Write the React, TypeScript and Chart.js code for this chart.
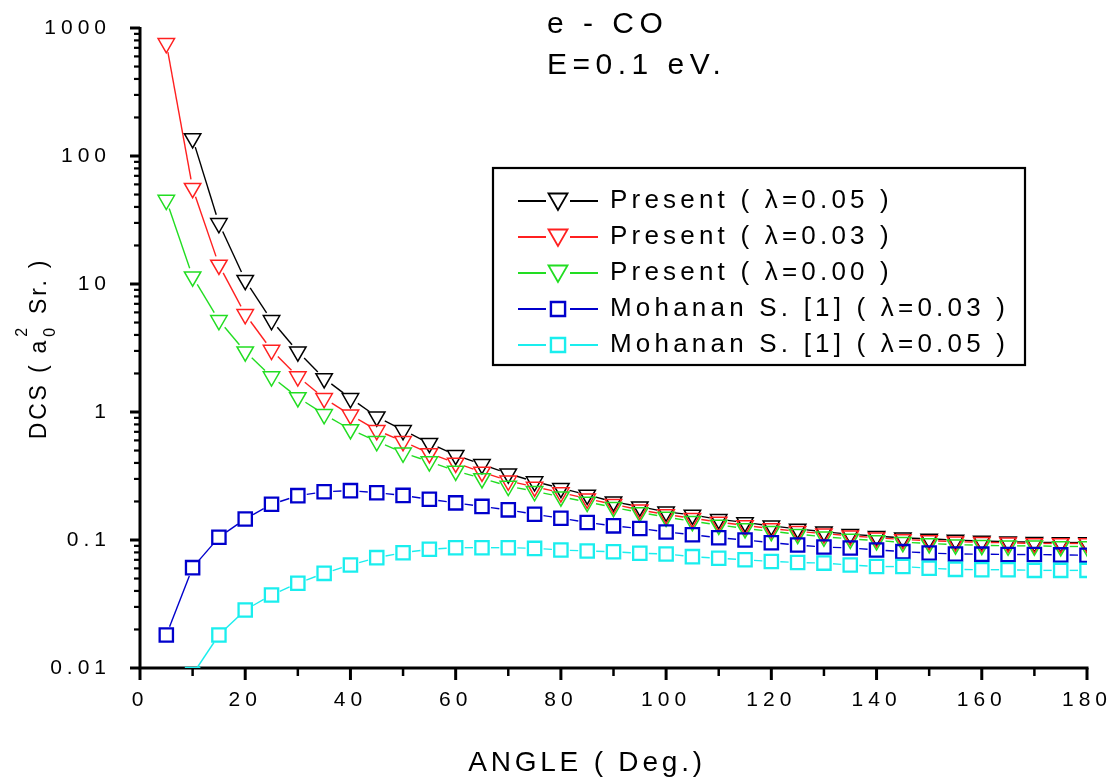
import React, { useEffect, useRef } from 'react';
import { Chart, registerables } from 'chart.js';

Chart.register(...registerables);

// ---------------- data ----------------
const angles = [5, 10, 15, 20, 25, 30, 35, 40, 45, 50, 55, 60, 65, 70, 75, 80, 85, 90, 95, 100,
  105, 110, 115, 120, 125, 130, 135, 140, 145, 150, 155, 160, 165, 170, 175, 180];

const presentL005 = [null, 137, 29.8, 10.7, 5.2, 2.96, 1.83, 1.28, 0.92, 0.72, 0.57, 0.46, 0.39, 0.33,
  0.286, 0.254, 0.225, 0.199, 0.182, 0.166, 0.157, 0.145, 0.137, 0.129, 0.122, 0.116, 0.111, 0.107,
  0.104, 0.102, 0.1, 0.098, 0.097, 0.096, 0.0955, 0.0955];

const presentL003 = [760, 56, 14.1, 5.8, 3.05, 1.89, 1.28, 0.95, 0.72, 0.59, 0.475, 0.4, 0.34, 0.29,
  0.26, 0.235, 0.21, 0.19, 0.172, 0.158, 0.148, 0.138, 0.13, 0.123, 0.117, 0.112, 0.108, 0.104,
  0.101, 0.099, 0.097, 0.096, 0.095, 0.094, 0.094, 0.094];

const presentL000 = [45.3, 11.4, 5.2, 2.96, 1.89, 1.3, 0.96, 0.73, 0.59, 0.48, 0.41, 0.346, 0.303, 0.264,
  0.24, 0.218, 0.198, 0.18, 0.164, 0.151, 0.14, 0.131, 0.123, 0.117, 0.111, 0.106, 0.102, 0.099,
  0.096, 0.094, 0.092, 0.091, 0.09, 0.09, 0.089, 0.089];

const mohananL003 = [0.0181, 0.0608, 0.105, 0.146, 0.19, 0.222, 0.238, 0.243, 0.234, 0.223, 0.208, 0.195, 0.183, 0.172,
  0.159, 0.148, 0.137, 0.129, 0.123, 0.1155, 0.11, 0.104, 0.1, 0.0953, 0.0914, 0.0881, 0.0866, 0.0836,
  0.0811, 0.0791, 0.0778, 0.0775, 0.077, 0.077, 0.0765, 0.076];

const mohananL005 = [null, 0.0089, 0.0181, 0.0284, 0.0372, 0.0459, 0.0549, 0.0638, 0.0728, 0.0796, 0.0846, 0.0871, 0.0871, 0.0871,
  0.086, 0.0836, 0.082, 0.081, 0.0788, 0.0778, 0.0741, 0.072, 0.07, 0.068, 0.0667, 0.066, 0.0638, 0.062,
  0.062, 0.0602, 0.059, 0.0586, 0.0586, 0.0579, 0.0579, 0.0579];

const seriesValues = [presentL005, presentL003, presentL000, mohananL003, mohananL005];
const seriesLabels = [
  'Present ( \u03bb=0.05 )',
  'Present ( \u03bb=0.03 )',
  'Present ( \u03bb=0.00 )',
  'Mohanan S. [1] ( \u03bb=0.03 )',
  'Mohanan S. [1] ( \u03bb=0.05 )',
];
const seriesColors = ['#000000', '#ff2020', '#22dd22', '#0000cc', '#1aeeee'];
const seriesMarkers = ['triangle', 'triangle', 'triangle', 'rect', 'rect'];

const yTickValues = [0.01, 0.1, 1, 10, 100, 1000];
const yTickLabels = ['0.01', '0.1', '1', '10', '100', '1000'];
const xTickValues = [0, 20, 40, 60, 80, 100, 120, 140, 160, 180];
const xMinorTickValues = [10, 30, 50, 70, 90, 110, 130, 150, 170];

const annotationLines = ['e - CO', 'E=0.1 eV.'];
const xAxisTitle = 'ANGLE ( Deg.)';
const yAxisTitleParts = ['DCS ( a', '2', '0', ' Sr. )'];

const FONT = '"Liberation Sans", Arial, Helvetica, sans-serif';

// ---------------- drawing helpers ----------------
function drawMarker(ctx: CanvasRenderingContext2D, style: string, x: number, y: number, r: number) {
  ctx.beginPath();
  if (style === 'triangle') {
    const s = Math.sin(Math.PI / 3) * r;
    ctx.moveTo(x, y + r);
    ctx.lineTo(x - s, y - r / 2);
    ctx.lineTo(x + s, y - r / 2);
    ctx.closePath();
  } else {
    const h = r * Math.SQRT1_2;
    ctx.rect(x - h, y - h, 2 * h, 2 * h);
  }
  ctx.stroke();
}

const decorPlugin = {
  id: 'decor',
  beforeDraw(chart: any) {
    (chart.ctx as any).letterSpacing = '5px';
  },
  beforeDatasetsDraw(chart: any) {
    const { ctx, chartArea, scales } = chart;
    const xs = scales.x;
    const ys = scales.y;
    ctx.save();
    (ctx as any).letterSpacing = '0px';
    ctx.strokeStyle = '#000';
    ctx.lineCap = 'butt';
    // axis lines
    ctx.lineWidth = 3;
    ctx.beginPath();
    ctx.moveTo(chartArea.left, chartArea.top - 1);
    ctx.lineTo(chartArea.left, chartArea.bottom + 1.5);
    ctx.moveTo(chartArea.left - 1.5, chartArea.bottom);
    ctx.lineTo(chartArea.right + 1.5, chartArea.bottom);
    ctx.stroke();
    // y ticks (outward, left)
    for (let e = -2; e <= 3; e++) {
      const major = Math.pow(10, e);
      const py = ys.getPixelForValue(major);
      ctx.lineWidth = 3;
      ctx.beginPath();
      ctx.moveTo(chartArea.left, py);
      ctx.lineTo(chartArea.left - 10, py);
      ctx.stroke();
      if (e < 3) {
        for (let k = 2; k <= 9; k++) {
          const pm = ys.getPixelForValue(k * major);
          ctx.lineWidth = 2.2;
          ctx.beginPath();
          ctx.moveTo(chartArea.left, pm);
          ctx.lineTo(chartArea.left - 6, pm);
          ctx.stroke();
        }
      }
    }
    // x ticks (outward, down)
    xTickValues.forEach((v) => {
      const px = xs.getPixelForValue(v);
      ctx.lineWidth = 3;
      ctx.beginPath();
      ctx.moveTo(px, chartArea.bottom);
      ctx.lineTo(px, chartArea.bottom + 12);
      ctx.stroke();
    });
    xMinorTickValues.forEach((v) => {
      const px = xs.getPixelForValue(v);
      ctx.lineWidth = 2.5;
      ctx.beginPath();
      ctx.moveTo(px, chartArea.bottom);
      ctx.lineTo(px, chartArea.bottom + 8);
      ctx.stroke();
    });

    // connecting lines with gaps around markers (Origin style)
    ctx.beginPath();
    ctx.rect(chartArea.left, chartArea.top, chartArea.right - chartArea.left, chartArea.bottom - chartArea.top + 1);
    ctx.clip();
    chart.data.datasets.forEach((ds: any, i: number) => {
      const meta = chart.getDatasetMeta(i);
      const pts = meta.data;
      ctx.strokeStyle = ds.borderColor;
      ctx.lineWidth = 1.4;
      const gap = 9;
      for (let k = 0; k < pts.length - 1; k++) {
        const a = pts[k];
        const b = pts[k + 1];
        if (!a || !b || a.skip || b.skip) continue;
        const dx = b.x - a.x;
        const dy = b.y - a.y;
        const len = Math.hypot(dx, dy);
        if (len <= 2 * gap + 1) continue;
        const ux = dx / len;
        const uy = dy / len;
        ctx.beginPath();
        ctx.moveTo(a.x + ux * gap, a.y + uy * gap);
        ctx.lineTo(b.x - ux * gap, b.y - uy * gap);
        ctx.stroke();
      }
    });
    ctx.restore();
  },
  afterDraw(chart: any) {
    const ctx: CanvasRenderingContext2D = chart.ctx;
    (ctx as any).letterSpacing = '0px';
    ctx.save();
    ctx.fillStyle = '#000';

    // annotation text
    ctx.font = `30px ${FONT}`;
    (ctx as any).letterSpacing = '5.5px';
    ctx.textAlign = 'left';
    ctx.textBaseline = 'middle';
    ctx.fillText(annotationLines[0], 547, 25);
    ctx.fillText(annotationLines[1], 547, 66);

    // x axis title
    ctx.font = `28px ${FONT}`;
    (ctx as any).letterSpacing = '3.8px';
    ctx.textAlign = 'center';
    ctx.fillText(xAxisTitle, 587, 763);

    // y axis title (rotated, with superscript / subscript)
    ctx.save();
    ctx.translate(40, 349);
    ctx.rotate(-Math.PI / 2);
    ctx.textAlign = 'left';
    ctx.textBaseline = 'middle';
    const mainFont = `23px ${FONT}`;
    const smallFont = `16px ${FONT}`;
    (ctx as any).letterSpacing = '2.8px';
    ctx.font = mainFont;
    const w1 = ctx.measureText(yAxisTitleParts[0]).width;
    const w4 = ctx.measureText(yAxisTitleParts[3]).width;
    ctx.font = smallFont;
    const w2 = ctx.measureText(yAxisTitleParts[1]).width;
    const w3 = ctx.measureText(yAxisTitleParts[2]).width;
    const ws = Math.max(w2, w3) + 2;
    const total = w1 + ws + w4;
    let cx = -total / 2;
    ctx.font = mainFont;
    ctx.fillText(yAxisTitleParts[0], cx, 0);
    cx += w1 + 1;
    ctx.font = smallFont;
    ctx.fillText(yAxisTitleParts[1], cx, -17);
    ctx.fillText(yAxisTitleParts[2], cx, 11);
    cx += ws;
    ctx.font = mainFont;
    ctx.fillText(yAxisTitleParts[3], cx, 0);
    ctx.restore();

    // legend
    const bx = 493, by = 168, bw = 532, bh = 197;
    ctx.strokeStyle = '#000';
    ctx.lineWidth = 2.2;
    ctx.strokeRect(bx, by, bw, bh);
    ctx.font = `26px ${FONT}`;
    (ctx as any).letterSpacing = '4.2px';
    ctx.textAlign = 'left';
    ctx.textBaseline = 'middle';
    seriesLabels.forEach((label, i) => {
      const y = 201 + 36 * i;
      const color = seriesColors[i];
      ctx.strokeStyle = color;
      ctx.lineWidth = 1.8;
      ctx.beginPath();
      ctx.moveTo(518, y);
      ctx.lineTo(546, y);
      ctx.moveTo(570, y);
      ctx.lineTo(598, y);
      ctx.stroke();
      ctx.lineWidth = seriesMarkers[i] === 'rect' ? 2.4 : 1.8;
      if (seriesMarkers[i] === 'triangle') {
        drawMarker(ctx, 'triangle', 558, y - 2, 11);
      } else {
        drawMarker(ctx, 'rect', 558, y, 10);
      }
      ctx.fillStyle = '#000';
      ctx.fillText(label, 610, y);
    });

    ctx.restore();
  },
};

export default function App() {
  const canvasRef = useRef<HTMLCanvasElement | null>(null);

  useEffect(() => {
    const canvas = canvasRef.current;
    if (!canvas) return;
    Chart.defaults.font.family = FONT;

    const datasets = seriesValues.map((vals, i) => ({
      label: seriesLabels[i],
      data: angles.map((a, k) => ({ x: a, y: vals[k] })),
      borderColor: seriesColors[i],
      backgroundColor: 'rgba(0,0,0,0)',
      showLine: false,
      pointStyle: seriesMarkers[i],
      pointRotation: seriesMarkers[i] === 'triangle' ? 180 : 0,
      pointRadius: seriesMarkers[i] === 'triangle' ? 9.5 : 9.4,
      pointBorderWidth: seriesMarkers[i] === 'triangle' ? 1.5 : 2.3,
      pointBackgroundColor: 'rgba(0,0,0,0)',
      pointBorderColor: seriesColors[i],
      order: seriesValues.length - i,
    }));

    const chart = new Chart(canvas, {
      type: 'line',
      data: { datasets },
      plugins: [decorPlugin as any],
      options: {
        animation: false,
        responsive: false,
        maintainAspectRatio: false,
        events: [],
        layout: { padding: { left: 0, right: 21, top: 28, bottom: 0 } },
        plugins: {
          legend: { display: false },
          tooltip: { enabled: false },
          title: { display: false },
        },
        scales: {
          x: {
            type: 'linear',
            min: 0,
            max: 180,
            grid: { display: false, drawTicks: false },
            border: { display: false },
            afterBuildTicks: (scale: any) => {
              scale.ticks = xTickValues.map((v) => ({ value: v }));
            },
            afterFit: (scale: any) => {
              scale.height = 112;
              scale.paddingLeft = 0;
              scale.paddingRight = 0;
            },
            ticks: {
              autoSkip: false,
              maxRotation: 0,
              padding: 20,
              color: '#000',
              font: { size: 21, family: FONT },
              callback: (v: any) => String(v),
            },
          },
          y: {
            type: 'logarithmic',
            min: 0.01,
            max: 1000,
            grid: { display: false, drawTicks: false },
            border: { display: false },
            afterBuildTicks: (scale: any) => {
              scale.ticks = yTickValues.map((v) => ({ value: v }));
            },
            afterFit: (scale: any) => {
              scale.width = 140;
              scale.paddingTop = 0;
              scale.paddingBottom = 0;
            },
            ticks: {
              autoSkip: false,
              padding: 29,
              color: '#000',
              font: { size: 21, family: FONT },
              callback: (v: any) => {
                const idx = yTickValues.indexOf(Number(v));
                return idx >= 0 ? yTickLabels[idx] : '';
              },
            },
          },
        },
      },
    });

    return () => {
      chart.destroy();
    };
  }, []);

  return (
    <div style={{ position: 'absolute', left: 0, top: 0, width: 1108, height: 780, background: '#fff' }}>
      <canvas ref={canvasRef} width={1108} height={780} style={{ width: 1108, height: 780, display: 'block' }} />
    </div>
  );
}
